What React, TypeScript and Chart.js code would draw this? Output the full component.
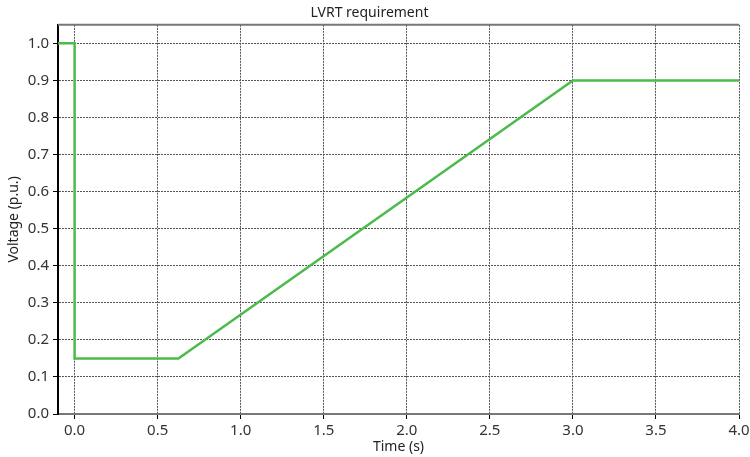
import React, { useEffect, useRef } from "react";
import { Chart, registerables } from "chart.js";

Chart.register(...registerables);

const timeS = [-0.1, 0.0, 0.0, 0.625, 3.0, 4.0];
const voltagePU = [1.0, 1.0, 0.15, 0.15, 0.9, 0.9];
const xTicks = [0, 0.5, 1.0, 1.5, 2.0, 2.5, 3.0, 3.5, 4.0];
const yTicks = [0, 0.1, 0.2, 0.3, 0.4, 0.5, 0.6, 0.7, 0.8, 0.9, 1.0];

const FONT = "'Noto Sans', sans-serif";

const topBorder = {
  id: "topBorder",
  afterDraw(chart: any) {
    const { ctx, chartArea } = chart;
    ctx.save();
    ctx.strokeStyle = "#777";
    ctx.lineWidth = 2;
    ctx.beginPath();
    ctx.moveTo(chartArea.left, chartArea.top);
    ctx.lineTo(chartArea.right, chartArea.top);
    ctx.stroke();
    ctx.restore();
  },
};

export default function App() {
  const ref = useRef<HTMLCanvasElement>(null);
  useEffect(() => {
    document.body.style.margin = "0";
    const chart = new Chart(ref.current!, {
      type: "scatter",
      data: {
        datasets: [
          {
            data: timeS.map((t, i) => ({ x: t, y: voltagePU[i] })),
            showLine: true,
            borderColor: "#4cbb4c",
            borderWidth: 2.5,
            pointRadius: 0,
            fill: false,
          },
        ],
      },
      options: {
        animation: false,
        responsive: false,
        layout: { padding: { top: 0, right: 11, bottom: 0, left: 0 } },
        plugins: {
          legend: { display: false },
          tooltip: { enabled: false },
          title: {
            display: true,
            text: "LVRT requirement",
            color: "#222",
            font: { family: FONT, size: 14, weight: "normal" },
            padding: { top: 5, bottom: 3 },
          },
        },
        scales: {
          x: {
            type: "linear",
            min: -0.1,
            max: 4.0,
            afterBuildTicks: (axis: any) => {
              axis.ticks = xTicks.map((v) => ({ value: v }));
            },
            afterFit: (axis: any) => {
              axis.height = 43;
              axis.paddingRight = 0;
              axis.paddingLeft = 0;
            },
            ticks: {
              color: "#333",
              font: { family: FONT, size: 15 },
              padding: 3,
              maxRotation: 0,
              callback: (v: any) => Number(v).toFixed(1),
            },
            grid: {
              color: "#555",
              tickColor: "#000",
              tickLength: 5,
              tickBorderDash: [],
            },
            border: { color: "#777", width: 2, dash: [2, 1] },
            title: {
              display: true,
              text: "Time (s)",
              color: "#222",
              font: { family: FONT, size: 14 },
              padding: { top: 0, bottom: 2 },
            },
          },
          y: {
            type: "linear",
            min: 0,
            max: 1.05,
            afterBuildTicks: (axis: any) => {
              axis.ticks = yTicks.map((v) => ({ value: v }));
            },
            afterFit: (axis: any) => {
              axis.width = 58;
            },
            ticks: {
              color: "#333",
              font: { family: FONT, size: 15 },
              padding: 4,
              callback: (v: any) => Number(v).toFixed(1),
            },
            grid: {
              color: "#555",
              tickColor: "#000",
              tickLength: 5,
              tickBorderDash: [],
            },
            border: { color: "#000", width: 2, dash: [2, 1] },
            title: {
              display: true,
              text: "Voltage (p.u.)",
              color: "#222",
              font: { family: FONT, size: 14 },
              padding: { top: 6, bottom: 4 },
            },
          },
        },
      },
      plugins: [topBorder],
    } as any);
    return () => chart.destroy();
  }, []);
  return (
    <div style={{ width: 750, height: 457, background: "#fff" }}>
      <canvas ref={ref} width={750} height={457} />
    </div>
  );
}
